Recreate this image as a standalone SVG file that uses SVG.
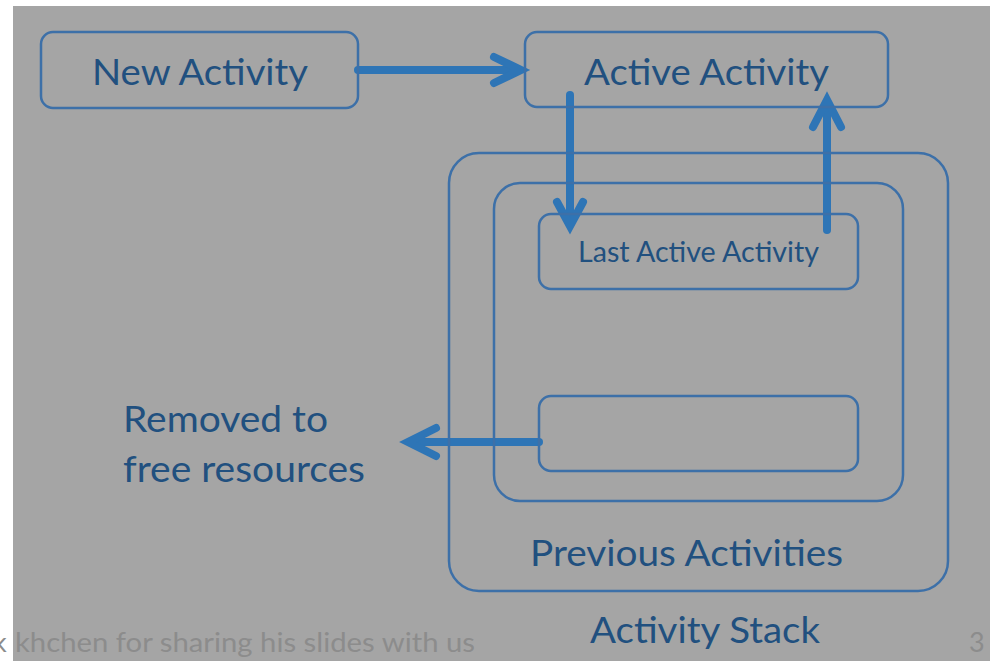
<svg xmlns="http://www.w3.org/2000/svg" width="993" height="661" viewBox="0 0 993 661">
  <style>
    .box { fill: none; stroke: #3d70a8; stroke-width: 2.5; }
    .lbl { font-family: Lato, "Open Sans", sans-serif; fill: #21507f; }
    .arr { fill: none; stroke: #2e75b6; stroke-width: 8; stroke-linecap: round; stroke-linejoin: miter; }
    .foot { font-family: Lato, "Open Sans", sans-serif; fill: #8c8c8c; font-size: 27px; }
  </style>
  <rect x="0" y="0" width="993" height="661" fill="#ffffff"/>
  <rect x="13" y="6" width="977" height="655" fill="#a5a5a5"/>

  <!-- connectors -->
  <g id="connectors">
    <path class="arr" d="M358 70 H519" stroke-linecap="butt"/>
    <path class="arr" d="M494 57 L521 70 L494 83"/>
    <path class="arr" d="M570 95 V224" stroke-linecap="butt"/>
    <path class="arr" d="M557 202 L570 226 L583 202"/>
    <path class="arr" d="M827 230 V102" stroke-linecap="butt"/>
    <path class="arr" d="M813 127 L827 100 L841 127"/>
    <path class="arr" d="M539 442 H410" stroke-linecap="butt"/>
    <path class="arr" d="M436 428 L408 442 L436 456"/>
  </g>

  <g id="activity-stack">
    <rect class="box" x="449" y="153" width="499" height="438" rx="30"/>
    <text class="lbl" x="590" y="643" font-size="37" textLength="230" lengthAdjust="spacingAndGlyphs">Activity Stack</text>
  </g>

  <g id="previous-activities">
    <rect class="box" x="494" y="183" width="409" height="318" rx="26"/>
    <text class="lbl" x="530" y="566" font-size="37" textLength="313" lengthAdjust="spacingAndGlyphs">Previous Activities</text>
  </g>

  <g id="new-activity">
    <rect class="box" x="41" y="32" width="317" height="76" rx="12"/>
    <text class="lbl" x="92" y="85" font-size="37" textLength="216" lengthAdjust="spacingAndGlyphs">New Activity</text>
  </g>

  <g id="active-activity">
    <rect class="box" x="525" y="32" width="363" height="75" rx="12"/>
    <text class="lbl" x="584" y="85" font-size="37" textLength="245" lengthAdjust="spacingAndGlyphs">Active Activity</text>
  </g>

  <g id="last-active-activity">
    <rect class="box" x="539" y="214" width="319" height="75" rx="12"/>
    <text class="lbl" x="578" y="262" font-size="28" textLength="241" lengthAdjust="spacingAndGlyphs">Last Active Activity</text>
  </g>

  <g id="older-activity">
    <rect class="box" x="539" y="396" width="319" height="75" rx="12"/>
  </g>

  <g id="removed">
    <text class="lbl" x="123" y="432" font-size="37" textLength="205" lengthAdjust="spacingAndGlyphs">Removed to</text>
    <text class="lbl" x="123" y="482" font-size="37" textLength="242" lengthAdjust="spacingAndGlyphs">free resources</text>
  </g>

  <text class="foot" x="-7" y="652">k <tspan x="15" textLength="460" lengthAdjust="spacingAndGlyphs">khchen for sharing his slides with us</tspan></text>
  <text class="foot" x="969" y="652">3</text>
</svg>
